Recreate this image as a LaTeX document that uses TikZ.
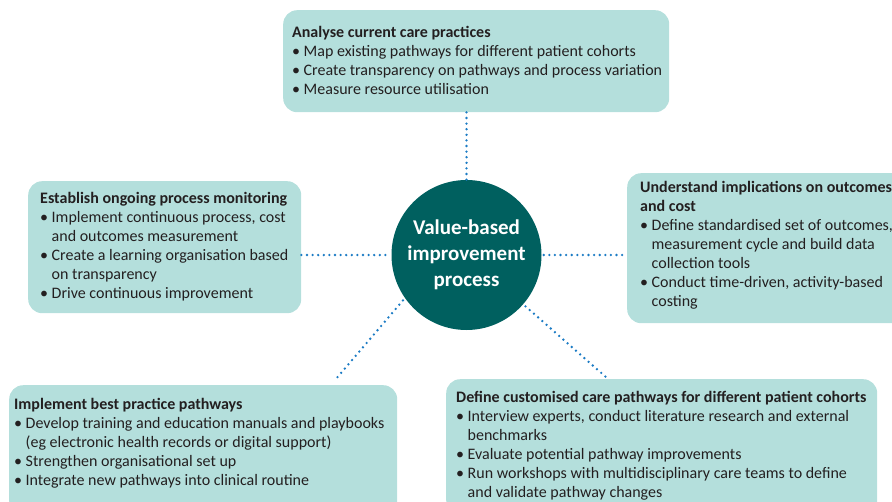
\documentclass[tikz,border=0pt]{standalone}
\usepackage{fontspec}
\setmainfont{Carlito}
\definecolor{boxfill}{HTML}{B4DFDC}
\definecolor{hubfill}{HTML}{00605F}
\definecolor{ink}{HTML}{231F20}
\definecolor{dotblue}{HTML}{1B7BC4}
\newcommand{\bul}[1]{\makebox[11.5pt][l]{\textbullet}#1}
\newcommand{\cnt}[1]{\hspace*{11.5pt}#1}
\newcommand{\hd}[1]{\textbf{#1}}
\begin{document}
\begin{tikzpicture}[x=1pt,y=-1pt,
  card/.style={fill=boxfill, rounded corners=14pt, draw=none, inner sep=0pt, anchor=north west},
  txt/.style={inner sep=0pt, anchor=base west, text=ink, font=\fontsize{16}{19}\selectfont},
  hub/.style={circle, fill=hubfill, minimum size=150pt, inner sep=0pt, align=center,
    text=white, font=\bfseries\fontsize{21}{26}\selectfont},
  dotline/.style={dotblue, line width=2.6pt, line cap=round, dash pattern=on 0pt off 5.6pt}]
\clip (0,0) rectangle (892,501);

% coloured cards
\node[card, minimum width=386pt, minimum height=102pt] (topcard) at (283,10) {};
\node[card, minimum width=280pt, minimum height=150pt] (rightcard) at (627,173) {};
\node[card, minimum width=273pt, minimum height=132pt] (leftcard) at (28,181) {};
\node[card, minimum width=388pt, minimum height=130pt] (blcard) at (9,385) {};
\node[card, minimum width=431pt, minimum height=135pt] (brcard) at (446,379) {};

% card texts
\node[txt] (toptext) at (292,37) {\begin{tabular}[t]{@{}l@{}}
\hd{Analyse current care practices}\\
\bul{Map existing pathways for different patient cohorts}\\
\bul{Create transparency on pathways and process variation}\\
\bul{Measure resource utilisation}
\end{tabular}};

\node[txt] (righttext) at (640,192) {\begin{tabular}[t]{@{}l@{}}
\hd{Understand implications on outcomes}\\
\hd{and cost}\\
\bul{Define standardised set of outcomes,}\\
\cnt{measurement cycle and build data}\\
\cnt{collection tools}\\
\bul{Conduct time-driven, activity-based}\\
\cnt{costing}
\end{tabular}};

\node[txt] (lefttext) at (40,203) {\begin{tabular}[t]{@{}l@{}}
\hd{Establish ongoing process monitoring}\\
\bul{Implement continuous process, cost}\\
\cnt{and outcomes measurement}\\
\bul{Create a learning organisation based}\\
\cnt{on transparency}\\
\bul{Drive continuous improvement}
\end{tabular}};

\node[txt] (bltext) at (14,409) {\begin{tabular}[t]{@{}l@{}}
\hd{Implement best practice pathways}\\
\bul{Develop training and education manuals and playbooks}\\
\cnt{(eg electronic health records or digital support)}\\
\bul{Strengthen organisational set up}\\
\bul{Integrate new pathways into clinical routine}
\end{tabular}};

\node[txt] (brtext) at (456,402) {\begin{tabular}[t]{@{}l@{}}
\hd{Define customised care pathways for different patient cohorts}\\
\bul{Interview experts, conduct literature research and external}\\
\cnt{benchmarks}\\
\bul{Evaluate potential pathway improvements}\\
\bul{Run workshops with multidisciplinary care teams to define}\\
\cnt{and validate pathway changes}
\end{tabular}};

% central hub
\node[hub] (core) at (466.5,255) {Value-based\\improvement\\process};

% dotted connectors
\coordinate (blend) at (335,380);
\coordinate (brend) at (607,378);
\draw[dotline] (topcard.south -| core) -- (core.north);
\draw[dotline, shorten >=2pt] (leftcard.east |- core) -- (core.west);
\draw[dotline, shorten <=2pt] (core.east) -- (rightcard.west |- core);
\draw[dotline, shorten <=3pt] (core.215) -- (blend);
\draw[dotline, shorten <=3pt] (core.319) -- (brend);
\end{tikzpicture}
\end{document}
